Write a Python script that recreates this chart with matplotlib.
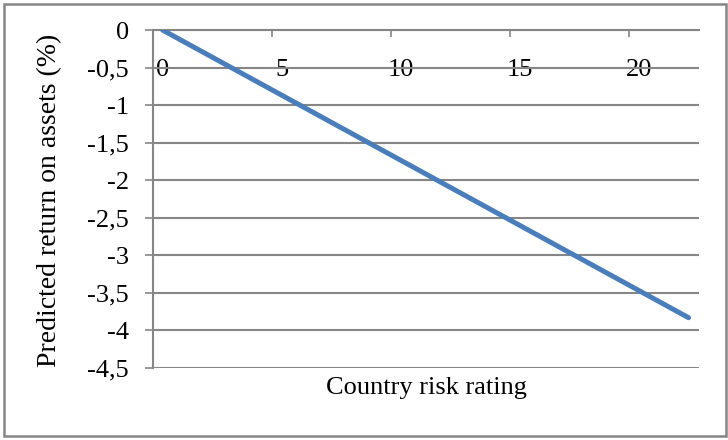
import matplotlib.pyplot as plt
import matplotlib.transforms as mtransforms

# fitted line: predicted ROA against country risk rating
risk_rating = [0.4, 22.5]
predicted_roa = [0.0, -3.83]

x_ticks = [0, 5, 10, 15, 20]
y_ticks = [0, -0.5, -1, -1.5, -2, -2.5, -3, -3.5, -4, -4.5]
y_tick_labels = ['0', '-0,5', '-1', '-1,5', '-2', '-2,5', '-3', '-3,5', '-4', '-4,5']

plt.rcParams['font.family'] = ['Liberation Serif', 'DejaVu Serif']
plt.rcParams['axes.unicode_minus'] = False

grey = '#868686'
fs = 19

fig = plt.figure(figsize=(7.28, 4.40), dpi=100)
ax = fig.add_axes([153 / 728, 1 - 368 / 440, (699 - 153) / 728, (368 - 30) / 440])

ax.plot(risk_rating, predicted_roa, color='#4a7ebb', linewidth=3.6,
        solid_capstyle='round', zorder=3)

ax.set_xlim(0, 22.94)
ax.set_ylim(-4.5, 0)

ax.set_yticks(y_ticks)
ax.set_yticklabels(y_tick_labels)
ax.set_xticks(x_ticks)
ax.set_xticklabels([str(v) for v in x_ticks])

ax.yaxis.grid(True, color=grey, linewidth=1.5)
ax.set_axisbelow(True)

# category axis crosses at y = 0, so it sits along the top edge
ax.spines['bottom'].set_position(('data', 0))
for side in ['top', 'right']:
    ax.spines[side].set_visible(False)
for side in ['bottom', 'left']:
    ax.spines[side].set_color(grey)
    ax.spines[side].set_linewidth(1.5)

ax.tick_params(axis='y', direction='out', length=5.5, width=1.2, color=grey,
               pad=12, labelsize=fs)
ax.tick_params(axis='x', direction='out', length=5, width=1.2, color=grey,
               pad=16, labelsize=fs)

shift = mtransforms.ScaledTranslation(10 / 100, 0, fig.dpi_scale_trans)
for lbl in ax.get_xticklabels():
    lbl.set_transform(lbl.get_transform() + shift)

fig.text(426 / 728, 1 - 388 / 440, 'Country risk rating', ha='center', va='center',
         fontsize=fs)
fig.text(50 / 728, 1 - 200 / 440, 'Predicted return on assets (%)', ha='center',
         va='center', rotation=90, fontsize=20)

# outer chart border
fig.patches.append(plt.Rectangle((4 / 728, 4 / 440), 722 / 728, 432 / 440,
                                 transform=fig.transFigure, fill=False,
                                 edgecolor=grey, linewidth=1.8))

fig.savefig('out.png', dpi=100)
